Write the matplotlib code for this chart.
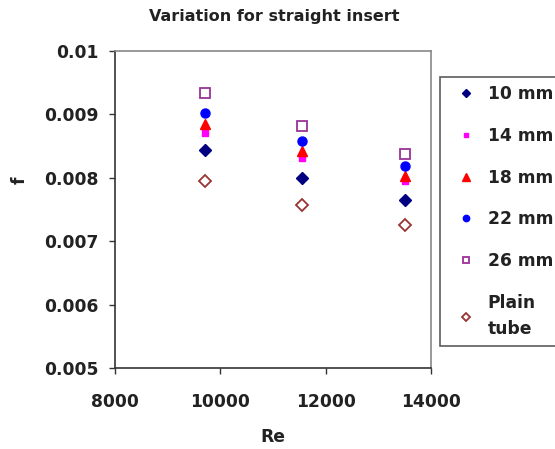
import matplotlib
matplotlib.use("Agg")
import matplotlib.pyplot as plt

plt.rcParams['font.family'] = ['DejaVu Sans']
plt.rcParams['font.weight'] = 'bold'

re_values = [9700, 11550, 13500]
series_labels = ['10 mm', '14 mm', '18 mm', '22 mm', '26 mm', 'Plain\ntube']
f_10 = [0.00844, 0.00799, 0.00764]
f_14 = [0.00871, 0.00831, 0.00794]
f_18 = [0.00884, 0.00842, 0.00802]
f_22 = [0.00902, 0.00858, 0.00819]
f_26 = [0.00934, 0.00882, 0.00837]
f_plain = [0.00795, 0.00757, 0.00726]
x_ticks = [8000, 10000, 12000, 14000]
y_ticks = [0.005, 0.006, 0.007, 0.008, 0.009, 0.01]
y_tick_labels = ['0.005', '0.006', '0.007', '0.008', '0.009', '0.01']

FS = 12.3

fig = plt.figure(figsize=(5.55, 4.49), dpi=100)
ax = fig.add_axes([115/555, 1-368/449, (431-115)/555, (368-50.7)/449])

styles = [
    dict(marker='D', color='#000080', mfc='#000080', ms=6.2),
    dict(marker='s', color='#FF00FF', mfc='#FF00FF', ms=5),
    dict(marker='^', color='#FF0000', mfc='#FF0000', ms=7.5),
    dict(marker='o', color='#0000FF', mfc='#0000FF', ms=6.5),
    dict(marker='s', color='#993399', mfc='white', ms=6.5, mew=1.3),
    dict(marker='D', color='#993333', mfc='white', ms=5.8, mew=1.3),
]
series = [f_10, f_14, f_18, f_22, f_26, f_plain]
handles = []
for vals, lab, st in zip(series, series_labels, styles):
    h, = ax.plot(re_values, vals, linestyle='none', marker=st['marker'],
                 color=st['color'], markerfacecolor=st['mfc'],
                 markeredgecolor=st['color'], markersize=st['ms'],
                 markeredgewidth=st.get('mew', 1.0), label=lab)
    handles.append(h)

ax.set_xlim(8000, 14000)
ax.set_ylim(0.005, 0.01)
ax.set_xticks(x_ticks)
ax.set_xticklabels([str(t) for t in x_ticks], fontsize=FS, fontweight='bold')
ax.set_yticks(y_ticks)
ax.set_yticklabels(y_tick_labels, fontsize=FS, fontweight='bold')
ax.tick_params(direction='out', length=4, width=1, colors='#333333', labelcolor='#222222')
ax.tick_params(axis='x', pad=14)
ax.tick_params(axis='y', pad=8)
for s in ['left', 'bottom']:
    ax.spines[s].set_color('#333333')
    ax.spines[s].set_linewidth(1.2)
for s in ['top', 'right']:
    ax.spines[s].set_color('#888888')
    ax.spines[s].set_linewidth(1.2)

ax.set_xlabel('Re', fontsize=FS, fontweight='bold', color='#222222')
ax.xaxis.set_label_coords(0.5, 1-(437-50.7)/(368-50.7), transform=ax.transAxes)
ax.xaxis.label.set_va('center')
ax.set_ylabel('f', fontsize=FS, fontweight='bold', color='#222222')
ax.yaxis.set_label_coords((20-115)/(431-115), 1-(180-50.7)/(368-50.7), transform=ax.transAxes)
ax.yaxis.label.set_ha('center')
ax.yaxis.label.set_va('center')
fig.text(274/555, 1-17/449, 'Variation for straight insert', ha='center', va='center',
         fontsize=11.5, fontweight='bold', color='#222222')

leg = fig.legend(handles=handles, labels=series_labels, loc='upper left',
                 bbox_to_anchor=(440/555, 1-77/449), frameon=True, fancybox=False,
                 edgecolor='#333333', prop=dict(size=FS, weight='bold'),
                 labelspacing=1.4, handlelength=2.2, handletextpad=0.15,
                 borderpad=0.45, borderaxespad=0, markerscale=0.7)
leg.get_frame().set_linewidth(1.2)
for t in leg.get_texts():
    t.set_color('#222222')
    t.set_linespacing(1.55)

fig.savefig('out.png', dpi=100)
